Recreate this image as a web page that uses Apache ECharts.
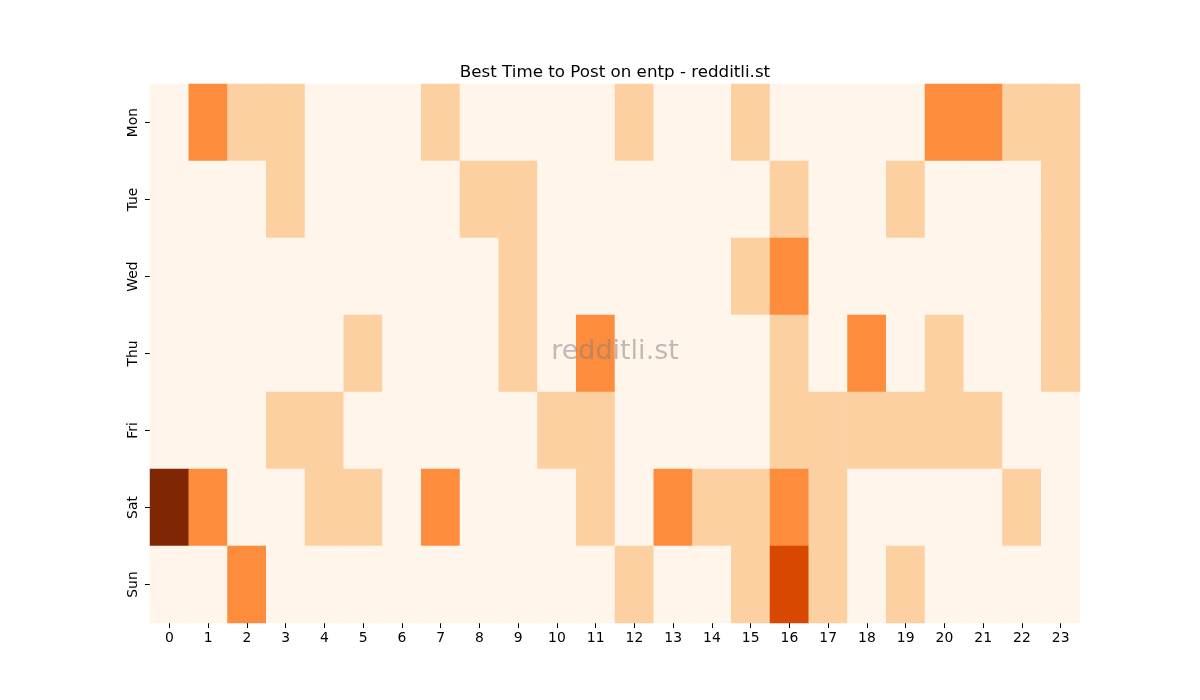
<!DOCTYPE html>
<html>
<head>
<meta charset="utf-8">
<script src="https://cdn.jsdelivr.net/npm/echarts@6/dist/echarts.min.js"></script>
<style>
  html, body { margin: 0; padding: 0; background: #fff; }
  #chart { width: 1200px; height: 700px; }
</style>
</head>
<body>
<div id="chart"></div>
<script>
const days = ["Mon", "Tue", "Wed", "Thu", "Fri", "Sat", "Sun"];
const hours = ["0", "1", "2", "3", "4", "5", "6", "7", "8", "9", "10", "11",
  "12", "13", "14", "15", "16", "17", "18", "19", "20", "21", "22", "23"];

// posts per hour, one row per day
const mon = [0, 2, 1, 1, 0, 0, 0, 1, 0, 0, 0, 0, 1, 0, 0, 1, 0, 0, 0, 0, 2, 2, 1, 1];
const tue = [0, 0, 0, 1, 0, 0, 0, 0, 1, 1, 0, 0, 0, 0, 0, 0, 1, 0, 0, 1, 0, 0, 0, 1];
const wed = [0, 0, 0, 0, 0, 0, 0, 0, 0, 1, 0, 0, 0, 0, 0, 1, 2, 0, 0, 0, 0, 0, 0, 1];
const thu = [0, 0, 0, 0, 0, 1, 0, 0, 0, 1, 0, 2, 0, 0, 0, 0, 1, 0, 2, 0, 1, 0, 0, 1];
const fri = [0, 0, 0, 1, 1, 0, 0, 0, 0, 0, 1, 1, 0, 0, 0, 0, 1, 1, 1, 1, 1, 1, 0, 0];
const sat = [4, 2, 0, 0, 1, 1, 0, 2, 0, 0, 0, 1, 0, 2, 1, 1, 2, 1, 0, 0, 0, 0, 1, 0];
const sun = [0, 0, 2, 0, 0, 0, 0, 0, 0, 0, 0, 0, 1, 0, 0, 1, 3, 1, 0, 1, 0, 0, 0, 0];

const rows = [mon, tue, wed, thu, fri, sat, sun];
const data = [];
rows.forEach((row, d) => {
  row.forEach((v, h) => {
    data.push([h, d, v]);
  });
});

const font = "DejaVu Sans";

const chart = echarts.init(document.getElementById("chart"));
chart.setOption({
  animation: false,
  title: {
    text: "Best Time to Post on entp - redditli.st",
    left: 610,
    top: 59,
    textAlign: "center",
    textStyle: { fontFamily: font, fontSize: 16.7, fontWeight: "normal", color: "#000" }
  },
  grid: { left: 150, right: 120, top: 84, bottom: 77 },
  xAxis: {
    type: "category",
    data: hours,
    axisLine: { show: false },
    axisTick: { show: true, alignWithLabel: true, length: 5, lineStyle: { color: "#000" } },
    axisLabel: { fontFamily: font, fontSize: 13.9, color: "#000", margin: 8, interval: 0 },
    splitLine: { show: false },
    splitArea: { show: false }
  },
  yAxis: {
    type: "category",
    data: days,
    inverse: true,
    axisLine: { show: false },
    axisTick: { show: true, alignWithLabel: true, length: 5, lineStyle: { color: "#000" } },
    axisLabel: { fontFamily: font, fontSize: 13.9, color: "#000", margin: 10, rotate: 90 },
    splitLine: { show: false },
    splitArea: { show: false }
  },
  visualMap: {
    show: false,
    type: "piecewise",
    dimension: 2,
    pieces: [
      { value: 0, color: "#fff5eb" },
      { value: 1, color: "#fdd0a2" },
      { value: 2, color: "#fd8d3c" },
      { value: 3, color: "#d94801" },
      { value: 4, color: "#7f2704" }
    ]
  },
  series: [{
    type: "heatmap",
    data: data,
    itemStyle: { borderWidth: 0 },
    emphasis: { disabled: true }
  }],
  graphic: [{
    type: "text",
    x: 615,
    y: 352,
    z: 100,
    style: {
      text: "redditli.st",
      fontFamily: font,
      fontSize: 27,
      fill: "rgba(128,128,128,0.5)",
      align: "center",
      verticalAlign: "middle"
    }
  }]
});
</script>
</body>
</html>
